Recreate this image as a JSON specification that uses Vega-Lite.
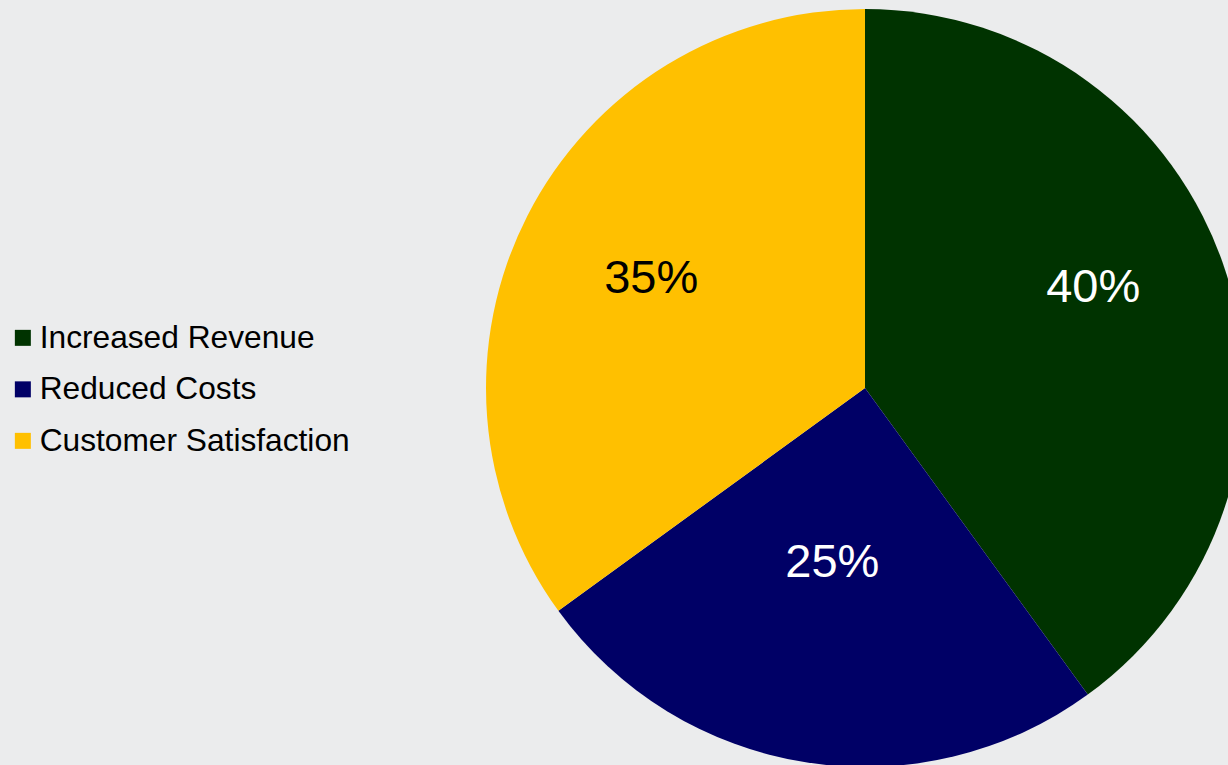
{
  "$schema": "https://vega.github.io/schema/vega-lite/v6.json",
  "width": 1730,
  "height": 776,
  "autosize": "none",
  "padding": 0,
  "background": "#ebeced",
  "view": {"stroke": null},
  "data": {
    "values": [
      {"category": "Increased Revenue", "value": 40, "label": "40%", "rank": 1},
      {"category": "Reduced Costs", "value": 25, "label": "25%", "rank": 2},
      {"category": "Customer Satisfaction", "value": 35, "label": "35%", "rank": 3}
    ]
  },
  "encoding": {
    "theta": {"field": "value", "type": "quantitative", "stack": true},
    "order": {"field": "rank", "type": "quantitative"}
  },
  "layer": [
    {
      "mark": {"type": "arc", "outerRadius": 379},
      "encoding": {
        "color": {
          "field": "category",
          "type": "nominal",
          "scale": {
            "domain": ["Increased Revenue", "Reduced Costs", "Customer Satisfaction"],
            "range": ["#003300", "#000066", "#ffc000"]
          },
          "legend": {
            "title": null,
            "orient": "none",
            "legendX": 7,
            "legendY": 322,
            "symbolType": "square",
            "symbolSize": 256,
            "symbolStrokeWidth": 0,
            "symbolOpacity": 1,
            "labelFont": "Liberation Sans",
            "labelFontSize": 31.7,
            "labelColor": "#000000",
            "labelOffset": 1,
            "rowPadding": 18.5,
            "labelLimit": 400
          }
        }
      }
    },
    {
      "mark": {"type": "text", "radius": 240, "font": "Liberation Sans", "fontSize": 47, "align": "center", "baseline": "middle", "color": "#000000"},
      "encoding": {
        "text": {"field": "label"},
        "opacity": {"condition": {"test": "datum.category === 'Customer Satisfaction'", "value": 1}, "value": 0}
      }
    },
    {
      "mark": {"type": "text", "radius": 240, "dy": -26, "font": "Liberation Sans", "fontSize": 47, "align": "center", "baseline": "middle", "color": "#ffffff"},
      "encoding": {
        "text": {"field": "label"},
        "opacity": {"condition": {"test": "datum.category === 'Increased Revenue'", "value": 1}, "value": 0}
      }
    },
    {
      "mark": {"type": "text", "radius": 177, "dx": -5, "font": "Liberation Sans", "fontSize": 47, "align": "center", "baseline": "middle", "color": "#ffffff"},
      "encoding": {
        "text": {"field": "label"},
        "opacity": {"condition": {"test": "datum.category === 'Reduced Costs'", "value": 1}, "value": 0}
      }
    }
  ]
}
